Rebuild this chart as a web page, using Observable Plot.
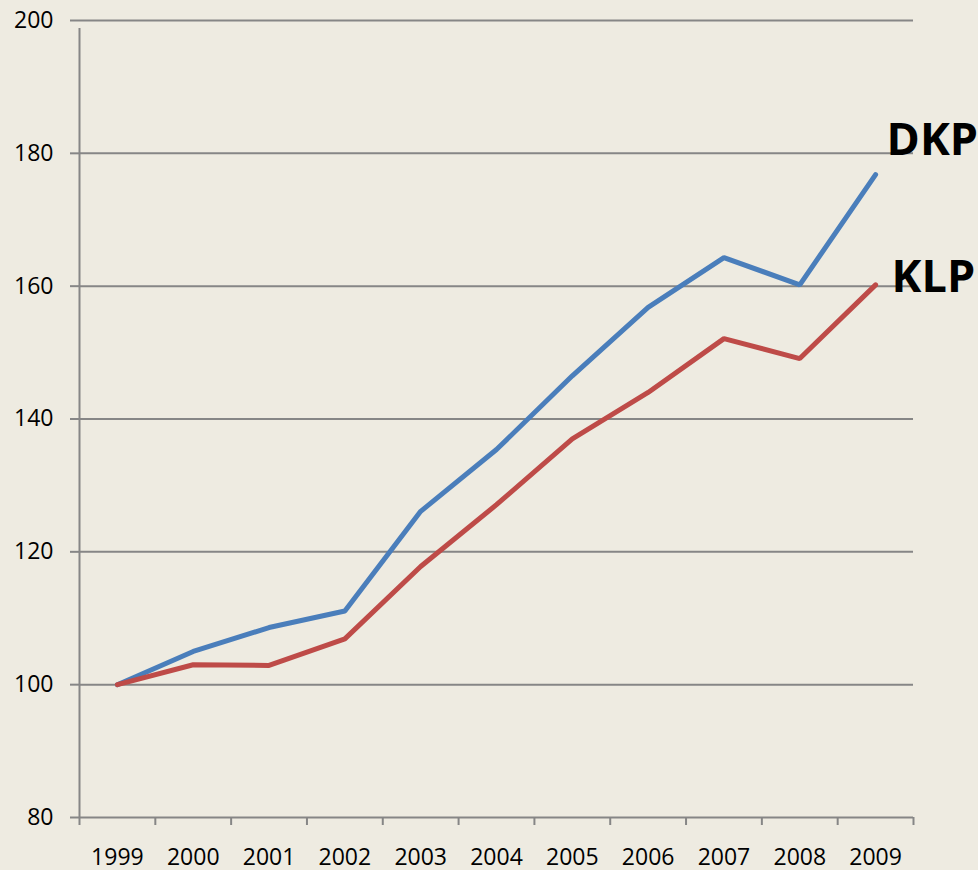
<!DOCTYPE html>
<html>
<head>
<meta charset="utf-8">
<script src="https://cdn.jsdelivr.net/npm/d3@7"></script>
<script src="https://cdn.jsdelivr.net/npm/@observablehq/plot@0.6"></script>
<style>
  html, body { margin: 0; padding: 0; background: #EEEBE1; }
  #chart svg { display: block; }
</style>
</head>
<body>
<div id="chart"></div>
<script>
const years = [1999, 2000, 2001, 2002, 2003, 2004, 2005, 2006, 2007, 2008, 2009];
const dkp = [100, 105, 108.6, 111.1, 126.1, 135.4, 146.5, 156.8, 164.3, 160.2, 176.8];
const klp = [100, 103, 102.9, 106.9, 117.8, 127.1, 137, 144, 152.1, 149.1, 160.2];
const yTicks = [80, 100, 120, 140, 160, 180, 200];
const seriesNames = ["DKP", "KLP"];
const seriesColors = ["#4A7EBB", "#BE4B48"];

const data = years.flatMap((y, i) => [
  {year: y, value: dkp[i], series: "DKP"},
  {year: y, value: klp[i], series: "KLP"}
]);
const bounds = years.map(y => y - 0.5).concat([years[years.length - 1] + 0.5]);
const lastYear = years[years.length - 1];

const gridColor = "#868686";

const chart = Plot.plot({
  width: 978,
  height: 870,
  marginLeft: 79,
  marginRight: 65,
  marginTop: 20,
  marginBottom: 53,
  style: {background: "#EEEBE1", fontFamily: "'Open Sans', sans-serif", overflow: "visible"},
  x: {type: "linear", domain: [bounds[0], bounds[bounds.length - 1]]},
  y: {domain: [yTicks[0], yTicks[yTicks.length - 1]]},
  color: {domain: seriesNames, range: seriesColors},
  marks: [
    Plot.ruleY(yTicks, {stroke: gridColor, strokeWidth: 2}),
    Plot.ruleX([bounds[0]], {y1: yTicks[0], y2: yTicks[yTicks.length - 1], stroke: gridColor, strokeWidth: 2, insetBottom: -8}),
    Plot.axisY({ticks: yTicks, tickSize: 9, tickPadding: 17, fontSize: 23, stroke: gridColor, strokeWidth: 2, strokeOpacity: 1, fill: "#000", label: null, tickFormat: d => String(d)}),
    Plot.axisX({ticks: bounds, tickSize: 8, tickFormat: () => "", stroke: gridColor, strokeWidth: 2, strokeOpacity: 1, label: null}),
    Plot.axisX({ticks: years, tickSize: 0, tickPadding: 31, fontSize: 23, fill: "#000", label: null, tickFormat: d => String(d)}),
    Plot.line(data, {x: "year", y: "value", z: "series", stroke: "series", strokeWidth: 5, strokeLinecap: "round", strokeLinejoin: "miter"}),
    Plot.text(data, {filter: d => d.series === "DKP" && d.year === lastYear, x: "year", y: "value", text: "series", dx: 11, dy: -34, textAnchor: "start", fontSize: 45, fontWeight: "bold", fill: "#000"}),
    Plot.text(data, {filter: d => d.series === "KLP" && d.year === lastYear, x: "year", y: "value", text: "series", dx: 16, dy: -7, textAnchor: "start", fontSize: 45, fontWeight: "bold", fill: "#000"})
  ]
});
document.getElementById("chart").appendChild(chart);
</script>
</body>
</html>
